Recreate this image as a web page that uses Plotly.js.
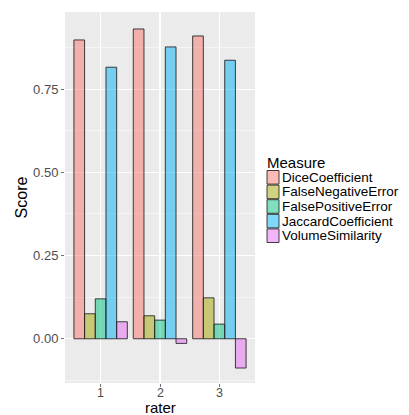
<!DOCTYPE html>
<html>
<head>
<meta charset="utf-8">
<script src="https://cdn.plot.ly/plotly-3.0.1.min.js"></script>
<style>html,body{margin:0;padding:0;background:#fff;}#chart{width:409px;height:415px;}</style>
</head>
<body>
<div id="chart"></div>
<script>
const raters = ["1", "2", "3"];
const measures = ["DiceCoefficient", "FalseNegativeError", "FalsePositiveError", "JaccardCoefficient", "VolumeSimilarity"];
const diceCoefficient = [0.898, 0.931, 0.910];
const falseNegativeError = [0.075, 0.069, 0.123];
const falsePositiveError = [0.120, 0.056, 0.044];
const jaccardCoefficient = [0.816, 0.877, 0.837];
const volumeSimilarity = [0.051, -0.014, -0.088];
const yTicks = [0, 0.25, 0.5, 0.75];
const yTickLabels = ["0.00", "0.25", "0.50", "0.75"];
const legendTitle = "Measure";
const xTitle = "rater";
const yTitle = "Score";

const seriesValues = [diceCoefficient, falseNegativeError, falsePositiveError, jaccardCoefficient, volumeSimilarity];
const colors = ["rgba(248,118,109,0.5)", "rgba(163,165,0,0.5)", "rgba(0,191,125,0.5)", "rgba(0,176,246,0.5)", "rgba(231,107,243,0.5)"];
const outline = "rgba(30,30,30,0.85)";

const traces = measures.map((m, i) => ({
  type: "bar",
  name: m,
  x: raters,
  y: seriesValues[i],
  marker: {color: colors[i], line: {color: outline, width: 1}},
  hoverinfo: "skip",
  showlegend: false
}));

// plot-area geometry (pixels)
const W = 409, H = 415, L = 65, R = 154, T = 12, B = 32;
const pw = W - L - R, ph = H - T - B;
const px = x => (x - L) / pw;
const py = y => (H - B - y) / ph;

const font = "Liberation Sans, Arial, sans-serif";
const shapes = [];
const annotations = [{
  xref: "paper", yref: "paper", x: px(265), y: py(162), xanchor: "left", yanchor: "middle",
  text: legendTitle, showarrow: false, font: {size: 15, color: "#000", family: font}
}];
const keyTop = 170, keyH = 14.6;
measures.forEach((m, i) => {
  const y0 = keyTop + i * keyH;
  shapes.push({type: "rect", xref: "paper", yref: "paper",
    x0: px(267), x1: px(279), y0: py(y0 + 0.5), y1: py(y0 + keyH - 0.5),
    fillcolor: colors[i], line: {color: outline, width: 1}});
  annotations.push({xref: "paper", yref: "paper", x: px(281), y: py(y0 + keyH / 2),
    xanchor: "left", yanchor: "middle", text: m, showarrow: false, borderpad: 0,
    font: {size: 13.5, color: "#000", family: font}});
});
// x tick labels placed at the category positions (index) of the x axis
raters.forEach((r, i) => {
  annotations.push({xref: "x", yref: "paper", x: i, y: py(392.5), xanchor: "center", yanchor: "middle",
    text: r, showarrow: false, borderpad: 0, font: {size: 12.5, color: "#4d4d4d", family: font}});
});
annotations.push({xref: "paper", yref: "paper", x: 0.5, y: py(407), xanchor: "center", yanchor: "middle",
  text: xTitle, showarrow: false, borderpad: 0, font: {size: 15, color: "#000", family: font}});

const layout = {
  width: W, height: H,
  margin: {l: L, r: R, t: T, b: B, pad: 0},
  paper_bgcolor: "#ffffff",
  plot_bgcolor: "#EBEBEB",
  barmode: "group",
  bargap: 0.1,
  bargroupgap: 0,
  font: {family: font, color: "#4d4d4d", size: 13},
  xaxis: {
    type: "category",
    range: [-0.6, 2.6],
    showgrid: true, gridcolor: "#ffffff", gridwidth: 1.1,
    zeroline: false, showline: false,
    ticks: "outside", ticklen: 3, tickcolor: "#4d4d4d", tickwidth: 0.8,
    showticklabels: false
  },
  yaxis: {
    range: [-0.133, 0.982],
    tickvals: yTicks, ticktext: yTickLabels,
    showgrid: true, gridcolor: "#ffffff", gridwidth: 1.1,
    minor: {tickvals: [-0.125, 0.125, 0.375, 0.625, 0.875], showgrid: true, gridcolor: "#ffffff", gridwidth: 0.5},
    zeroline: false, showline: false,
    ticks: "outside", ticklen: 3, tickcolor: "#4d4d4d", tickwidth: 0.8,
    tickfont: {size: 13, color: "#4d4d4d"},
    title: {text: yTitle, font: {size: 16, color: "#000"}, standoff: 1}
  },
  shapes: shapes,
  annotations: annotations,
  showlegend: false
};

Plotly.newPlot("chart", traces, layout, {staticPlot: true, displayModeBar: false});
</script>
</body>
</html>
